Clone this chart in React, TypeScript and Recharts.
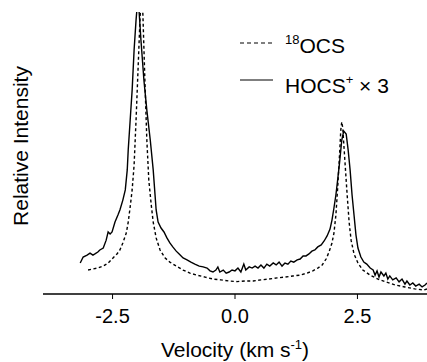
import { Line, LineChart, XAxis, YAxis } from "recharts";

// HOCS+ x 3 (solid): velocity (km/s), relative intensity
const hocsVel = [
  -3.16, -3.1, -3.02, -2.96, -2.9, -2.86, -2.8, -2.76, -2.69, -2.63, -2.59, -2.55, -2.51, -2.45, -2.39,
  -2.35, -2.29, -2.24, -2.2, -2.18, -2.14, -2.1, -2.06, -2.02, -2.0, -1.96, -1.92, -1.86, -1.8, -1.73,
  -1.67, -1.61, -1.57, -1.51, -1.45, -1.39, -1.33, -1.27, -1.2, -1.14, -1.06, -0.98, -0.9, -0.82, -0.73,
  -0.65, -0.57, -0.51, -0.45, -0.39, -0.35, -0.31, -0.24, -0.18, -0.12, -0.06, 0.0, 0.06, 0.12, 0.18,
  0.22, 0.29, 0.35, 0.41, 0.47, 0.53, 0.59, 0.65, 0.71, 0.78, 0.84, 0.9, 0.96, 1.02, 1.08, 1.14, 1.2,
  1.27, 1.33, 1.39, 1.45, 1.51, 1.57, 1.63, 1.69, 1.76, 1.82, 1.88, 1.94, 1.98, 2.02, 2.06, 2.1, 2.14,
  2.18, 2.22, 2.27, 2.31, 2.35, 2.39, 2.43, 2.47, 2.51, 2.57, 2.63, 2.69, 2.76, 2.82, 2.86, 2.9, 2.94,
  2.98, 3.04, 3.08, 3.12, 3.16, 3.22, 3.29, 3.35, 3.41, 3.47, 3.51, 3.57, 3.63, 3.69, 3.76, 3.82, 3.88,
  3.92,
];
const hocsInt = [
  0.11, 0.131, 0.138, 0.145, 0.138, 0.142, 0.149, 0.156, 0.163, 0.191, 0.22, 0.213, 0.22, 0.255, 0.28,
  0.298, 0.333, 0.369, 0.44, 0.511, 0.617, 0.723, 0.865, 0.972, 1.014, 1.007, 0.9, 0.759, 0.652, 0.546,
  0.44, 0.298, 0.255, 0.234, 0.22, 0.199, 0.181, 0.167, 0.152, 0.142, 0.128, 0.121, 0.113, 0.106, 0.099,
  0.096, 0.092, 0.082, 0.078, 0.085, 0.096, 0.078, 0.085, 0.074, 0.078, 0.085, 0.082, 0.092, 0.078, 0.106,
  0.085, 0.096, 0.092, 0.099, 0.092, 0.103, 0.092, 0.106, 0.099, 0.11, 0.103, 0.113, 0.099, 0.11, 0.106,
  0.117, 0.113, 0.121, 0.124, 0.135, 0.135, 0.142, 0.152, 0.156, 0.167, 0.174, 0.188, 0.206, 0.23, 0.262,
  0.305, 0.351, 0.411, 0.475, 0.546, 0.578, 0.567, 0.511, 0.44, 0.351, 0.28, 0.209, 0.163, 0.131, 0.113,
  0.106, 0.092, 0.085, 0.067, 0.082, 0.06, 0.078, 0.064, 0.074, 0.053, 0.064, 0.05, 0.057, 0.043, 0.053,
  0.035, 0.046, 0.032, 0.039, 0.028, 0.035, 0.025, 0.032, 0.039,
];

// 18OCS (dashed)
const ocsVel = [
  -3.0, -2.9, -2.8, -2.69, -2.59, -2.49, -2.41, -2.35, -2.29, -2.22, -2.18, -2.14, -2.1, -2.06, -2.02,
  -1.98, -1.94, -1.92, -1.9, -1.88, -1.84, -1.8, -1.76, -1.71, -1.67, -1.61, -1.53, -1.43, -1.33, -1.2,
  -1.06, -0.92, -0.78, -0.61, -0.45, -0.29, -0.12, 0.04, 0.2, 0.37, 0.53, 0.69, 0.86, 1.02, 1.18, 1.33,
  1.47, 1.59, 1.69, 1.78, 1.86, 1.92, 1.98, 2.02, 2.06, 2.1, 2.14, 2.16, 2.18, 2.2, 2.24, 2.29, 2.33,
  2.37, 2.43, 2.51, 2.61, 2.76, 2.92, 3.08, 3.27, 3.47, 3.67, 3.86, 3.92,
];
const ocsInt = [
  0.085, 0.089, 0.092, 0.099, 0.11, 0.128, 0.142, 0.156, 0.181, 0.216, 0.255, 0.309, 0.369, 0.457, 0.617,
  0.794, 0.972, 1.04, 1.06, 0.989, 0.759, 0.546, 0.404, 0.316, 0.255, 0.199, 0.156, 0.128, 0.113, 0.099,
  0.085, 0.074, 0.067, 0.06, 0.053, 0.05, 0.046, 0.044, 0.046, 0.046, 0.05, 0.053, 0.057, 0.06, 0.064,
  0.067, 0.074, 0.082, 0.092, 0.103, 0.124, 0.149, 0.181, 0.216, 0.28, 0.387, 0.511, 0.582, 0.61, 0.589,
  0.482, 0.351, 0.255, 0.191, 0.142, 0.11, 0.085, 0.067, 0.053, 0.043, 0.032, 0.025, 0.018, 0.014, 0.018,
];

const xTicks = [-2.5, 0, 2.5];

const hocsData = hocsVel.map((v, i) => ({ v, y: hocsInt[i] }));
const ocsData = ocsVel.map((v, i) => ({ v, y: ocsInt[i] }));

const font = "'Liberation Sans', Arial, Helvetica, sans-serif";

export default function App() {
  return (
    <div
      style={{
        position: "absolute",
        left: 0,
        top: 0,
        width: 427,
        height: 362,
        background: "#fff",
        fontFamily: font,
      }}
    >
      <LineChart
        width={427}
        height={362}
        margin={{ top: 12, right: 0, left: 43, bottom: 0 }}
      >
        <XAxis
          type="number"
          dataKey="v"
          domain={[-3.92, 3.92]}
          allowDataOverflow
          ticks={xTicks}
          tickFormatter={(t: number) => t.toFixed(1)}
          height={68}
          tickSize={5}
          tickMargin={10}
          axisLine={{ stroke: "#000", strokeWidth: 1.5 }}
          tickLine={{ stroke: "#000", strokeWidth: 1 }}
          tick={{ fill: "#000", fontSize: 20, fontFamily: font }}
        />
        <YAxis
          type="number"
          dataKey="y"
          domain={[0, 1]}
          allowDataOverflow
          width={0}
          tick={false}
          tickLine={false}
          axisLine={{ stroke: "#000", strokeWidth: 1.5 }}
        />
        <Line
          data={ocsData}
          dataKey="y"
          type="linear"
          stroke="#000"
          strokeWidth={1.4}
          strokeDasharray="3 2.5"
          dot={false}
          isAnimationActive={false}
        />
        <Line
          data={hocsData}
          dataKey="y"
          type="linear"
          stroke="#000"
          strokeWidth={1.4}
          dot={false}
          isAnimationActive={false}
        />
      </LineChart>
      <svg
        width={427}
        height={362}
        style={{ position: "absolute", left: 0, top: 0, pointerEvents: "none" }}
        fontFamily={font}
        fill="#000"
      >
        <text transform="translate(28,146) rotate(-90)" textAnchor="middle" fontSize={21}>
          Relative Intensity
        </text>
        <text x={235} y={357} textAnchor="middle" fontSize={21}>
          Velocity (km s
          <tspan fontSize={13} dy={-8}>-1</tspan>
          <tspan dy={8}>)</tspan>
        </text>
        <line x1={240} y1={43} x2={273} y2={43} stroke="#000" strokeWidth={1.2} strokeDasharray="4 3" />
        <text x={285} y={53} fontSize={21}>
          <tspan fontSize={13} dy={-9}>18</tspan>
          <tspan dy={9}>OCS</tspan>
        </text>
        <line x1={240} y1={80} x2={273} y2={80} stroke="#000" strokeWidth={1.2} />
        <text x={285} y={93} fontSize={21}>
          HOCS
          <tspan fontSize={13} dy={-9}>+</tspan>
          <tspan dy={9}> × 3</tspan>
        </text>
      </svg>
    </div>
  );
}
